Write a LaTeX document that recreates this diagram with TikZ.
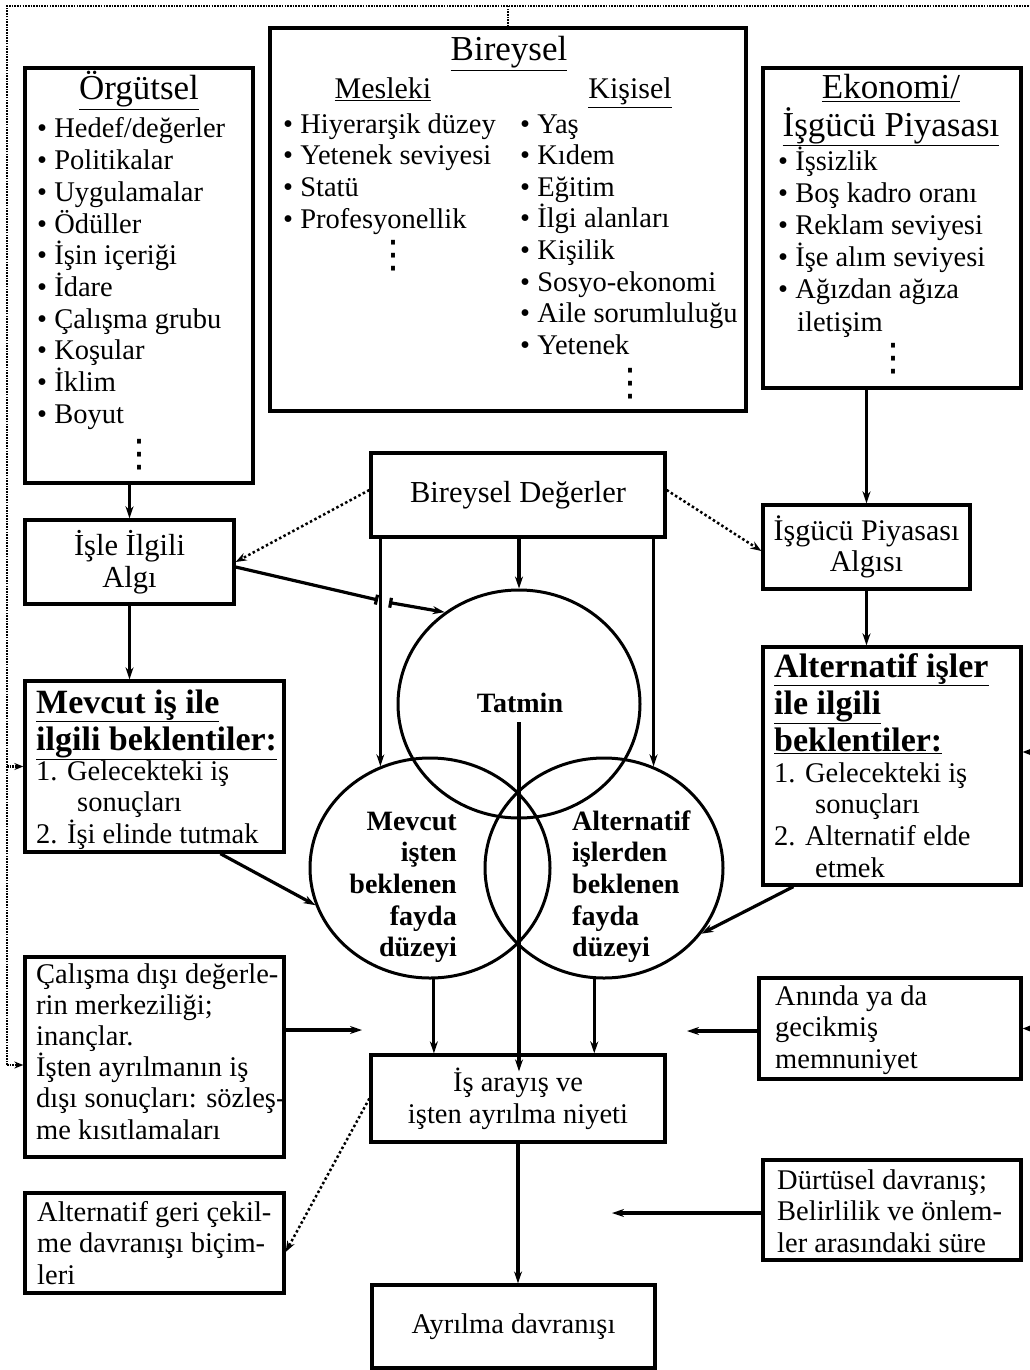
\documentclass[tikz,border=0pt]{standalone}
\usepackage{fontspec}
\setmainfont{Liberation Serif}
\newfontfamily\symfont{DejaVu Sans}
\usetikzlibrary{arrows.meta,shapes.geometric}

% type sizes (1 unit = 1pt)
\newcommand\bodyfont{\fontsize{28.5}{31.7}\selectfont}
\newcommand\titlefont{\fontsize{35}{37}\selectfont}
\newcommand\subfont{\fontsize{30}{32}\selectfont}
\newcommand\headfont{\fontsize{34}{37}\selectfont\bfseries}
\newcommand\midfont{\fontsize{30.5}{31.5}\selectfont}
\newcommand\circfont{\fontsize{28}{31.7}\selectfont\bfseries}
% vertical ellipsis closing a list
\newcommand\dotcol{{\symfont\fontsize{38}{38}\selectfont ⋮}}

\begin{document}
\begin{tikzpicture}[x=1pt,y=-1pt,
  box/.style={draw,line width=3.3pt,inner sep=0pt,align=center,font=\midfont},
  blob/.style={draw,ellipse,line width=3pt,inner sep=0pt},
  txt/.style={inner sep=0pt,anchor=base west,font=\bodyfont},
  ctr/.style={inner sep=0pt,anchor=base},
  dots/.style={inner sep=0pt},
  tip/.style={-{Stealth[length=12pt,width=8pt]}},
  arr/.style={line width=3.2pt,tip},
  dotarr/.style={line width=2.5pt,dash pattern=on 2.5pt off 2.5pt,-{Stealth[length=11pt,width=8pt]}},
  fb/.style={line width=2.5pt,dash pattern=on 1.6pt off 1.1pt},
  fbarr/.style={fb,-{Stealth[length=9pt,width=7pt]}}
]
\fill[white] (0,0) rectangle (1030,1370);
\useasboundingbox (0,0) rectangle (1030,1370);

% ---------------- boxes ----------------
\node[box,minimum width=228,minimum height=415] (org) at (139,275.5) {};
\node[box,minimum width=476,minimum height=383] (bir) at (508,219.5) {};
\node[box,minimum width=258,minimum height=320] (eko) at (892,228) {};
\node[box,minimum width=294,minimum height=84] (bd) at (518,495) {Bireysel Değerler};
\node[box,minimum width=209,minimum height=84] (isle) at (129.5,562) {İşle İlgili\\Algı};
\node[box,minimum width=207,minimum height=84,font=\fontsize{30}{31.5}\selectfont] (ipa) at (866.5,547) {İşgücü Piyasası\\Algısı};
\node[box,minimum width=259,minimum height=171] (mb) at (154.5,766.5) {};
\node[box,minimum width=258,minimum height=238] (ab) at (892,766) {};
\node[box,minimum width=259,minimum height=200] (cd) at (154.5,1057) {};
\node[box,minimum width=262,minimum height=101] (an) at (890,1028.5) {};
\node[box,minimum width=294,minimum height=87,font=\bodyfont] (iab) at (518,1098.5) {İş arayış ve\\işten ayrılma niyeti};
\node[box,minimum width=259,minimum height=100] (ag) at (154.5,1243) {};
\node[box,minimum width=258,minimum height=100] (dd) at (892,1210) {};
\node[box,minimum width=283,minimum height=83,font=\bodyfont] (ay) at (513.5,1326.5) {Ayrılma davranışı};

% ---------------- ellipses ----------------
\node[blob,minimum width=242,minimum height=228] (tc) at (519,704) {};
\node[blob,minimum width=240,minimum height=220] (mc) at (430,868) {};
\node[blob,minimum width=238,minimum height=220] (ac) at (604,868) {};

% ---------------- Örgütsel ----------------
\node[ctr,font=\titlefont] (org-t) at (139,100) {\underline{Örgütsel}};
\foreach \w [count=\i] in {{Hedef/değerler},Politikalar,Uygulamalar,Ödüller,İşin içeriği,İdare,Çalışma grubu,Koşular,İklim,Boyut}
  \node[txt] (org-\i) at (37,{138+31.7*(\i-1)}) {•\ \w};
\node[dots] (org-d) at (139,455) {\dotcol};

% ---------------- Bireysel ----------------
\node[ctr,font=\titlefont] (bir-t) at (509,61) {\underline{Bireysel}};
\node[ctr,font=\subfont] (mes-t) at (383,99) {\underline{Mesleki}};
\node[ctr,font=\subfont] (kis-t) at (630,99) {\underline{Kişisel}};
\foreach \w [count=\i] in {Hiyerarşik düzey,Yetenek seviyesi,Statü,Profesyonellik}
  \node[txt] (mes-\i) at (283,{133+31.7*(\i-1)}) {•\ \w};
\node[dots] (mes-d) at (393,256) {\dotcol};
\foreach \w [count=\i] in {Yaş,Kıdem,Eğitim,İlgi alanları,Kişilik,Sosyo-ekonomi,Aile sorumluluğu,Yetenek}
  \node[txt] (kis-\i) at (520,{133+31.6*(\i-1)}) {•\ \w};
\node[dots] (kis-d) at (630,384) {\dotcol};

% ---------------- Ekonomi ----------------
\node[ctr,font=\titlefont] (eko-t1) at (891,99) {\underline{Ekonomi/}};
\node[ctr,font=\titlefont] (eko-t2) at (891,136) {\underline{İşgücü Piyasası}};
\foreach \w [count=\i] in {İşsizlik,Boş kadro oranı,Reklam seviyesi,İşe alım seviyesi,Ağızdan ağıza}
  \node[txt] (eko-\i) at (778,{170.5+32*(\i-1)}) {•\ \w};
\node[txt] (eko-6) at (797,331) {iletişim};
\node[dots] (eko-d) at (893,359) {\dotcol};

% ---------------- expectations, current job ----------------
\node[txt,font=\headfont] (mb-h1) at (36,713) {\underline{Mevcut iş ile}};
\node[txt,font=\headfont] (mb-h2) at (36,750) {\underline{ilgili beklentiler:}};
\node[txt] (mb-1) at (36,780) {1. Gelecekteki iş};
\node[txt] (mb-1b) at (77,811) {sonuçları};
\node[txt] (mb-2) at (36,843) {2. İşi elinde tutmak};

% ---------------- expectations, alternative jobs ----------------
\node[txt,font=\headfont] (ab-h1) at (774,677) {\underline{Alternatif işler}};
\node[txt,font=\headfont] (ab-h2) at (774,714) {\underline{ile ilgili}};
\node[txt,font=\headfont] (ab-h3) at (774,751) {\underline{beklentiler:}};
\node[txt] (ab-1) at (774,782) {1. Gelecekteki iş};
\node[txt] (ab-1b) at (815,813) {sonuçları};
\node[txt] (ab-2) at (774,845) {2. Alternatif elde};
\node[txt] (ab-2b) at (815,877) {etmek};

% ---------------- ellipse labels ----------------
\node[ctr,font=\circfont] (tc-l) at (520,712) {Tatmin};
\foreach \w [count=\i] in {Mevcut,işten,beklenen,fayda,düzeyi}
  \node[inner sep=0pt,anchor=base east,font=\circfont] (mc-\i) at (457,{830+31.7*(\i-1)}) {\w};
\foreach \w [count=\i] in {Alternatif,işlerden,beklenen,fayda,düzeyi}
  \node[inner sep=0pt,anchor=base west,font=\circfont] (ac-\i) at (572,{830+31.7*(\i-1)}) {\w};

% ---------------- lower side boxes ----------------
\foreach \w [count=\i] in {Çalışma dışı değerle-,rin merkeziliği;,inançlar.,İşten ayrılmanın iş,dışı sonuçları: sözleş-,me kısıtlamaları}
  \node[txt] (cd-\i) at (36,{983+31.2*(\i-1)}) {\w};
\foreach \w [count=\i] in {Anında ya da,gecikmiş,memnuniyet}
  \node[txt] (an-\i) at (775,{1005+31.7*(\i-1)}) {\w};
\foreach \w [count=\i] in {Alternatif geri çekil-,me davranışı biçim-,leri}
  \node[txt] (ag-\i) at (37,{1221+31.7*(\i-1)}) {\w};
\foreach \w [count=\i] in {Dürtüsel davranış;,Belirlilik ve önlem-,ler arasındaki süre}
  \node[txt] (dd-\i) at (777,{1189+31.7*(\i-1)}) {\w};

% ---------------- connectors ----------------
\draw[arr] (isle.north |- org.south) -- (isle.north);
\draw[arr] (isle.south) -- (isle.south |- mb.north);
\draw[arr] (ipa.north |- eko.south) -- (ipa.north);
\draw[arr] (ipa.south) -- (ipa.south |- ab.north);

\draw[dotarr] ([yshift=5pt]bd.west) -- (isle.east);
\draw[dotarr] ([yshift=5pt]bd.east) -- ([yshift=-4pt]ipa.west);

\draw[arr] (mc.116 |- bd.south) -- (mc.116);
\draw[arr] (bd.south -| tc.north) -- (tc.north);
\draw[arr] (ac.64 |- bd.south) -- (ac.64);

% job perception -> satisfaction, hopping over the vertical line
\coordinate (hop-a) at (378,600);
\coordinate (hop-b) at (389,602.5);
\draw[line width=3.2pt,-{Bar[width=10pt]}] ([yshift=-5pt]isle.east) -- (hop-a);
\draw[line width=3.2pt,{Bar[width=10pt]}-{Stealth[length=12pt,width=8pt]}] (hop-b) -- (tc.129);

\draw[arr] ([xshift=197pt]mb.south west) -- (mc.198);
\draw[arr] ([xshift=32pt]ab.south west) -- (ac.-34);

\draw[arr] ([yshift=-18pt]tc.center) -- ([yshift=-18pt]tc.center |- iab.north);
\draw[arr] (mc.272) -- (mc.272 |- iab.north);
\draw[arr] (ac.265) -- (ac.265 |- iab.north);
\draw[arr] (iab.south) -- (iab.south |- ay.north);

\coordinate (cd-to) at (362,1030);
\draw[arr] (cd-to -| cd.east) -- (cd-to);
\coordinate (an-to) at (687,1031);
\draw[arr] (an-to -| an.west) -- (an-to);
\coordinate (dd-to) at (612,1213);
\draw[arr] (dd-to -| dd.west) -- (dd-to);

\draw[dotarr] (iab.west) -- ([yshift=-9pt]ag.east);

% ---------------- feedback loop ----------------
\coordinate (fb-tl) at (7,6);
\coordinate (fb-tr) at (1031,6);
\draw[fb] (bir.north) -- (bir.north |- fb-tl);
\draw[fb] ([yshift=-8pt]cd.west -| fb-tl) -- (fb-tl) -- (fb-tr) -- (an.east -| fb-tr);
\draw[fbarr] (mb.west -| fb-tl) -- (mb.west);
\draw[fbarr] ([yshift=-8pt]cd.west -| fb-tl) -- ([yshift=-8pt]cd.west);
\draw[fbarr] ([yshift=14pt]ab.east -| fb-tr) -- ([yshift=14pt]ab.east);
\draw[fbarr] (an.east -| fb-tr) -- (an.east);
\end{tikzpicture}
\end{document}
